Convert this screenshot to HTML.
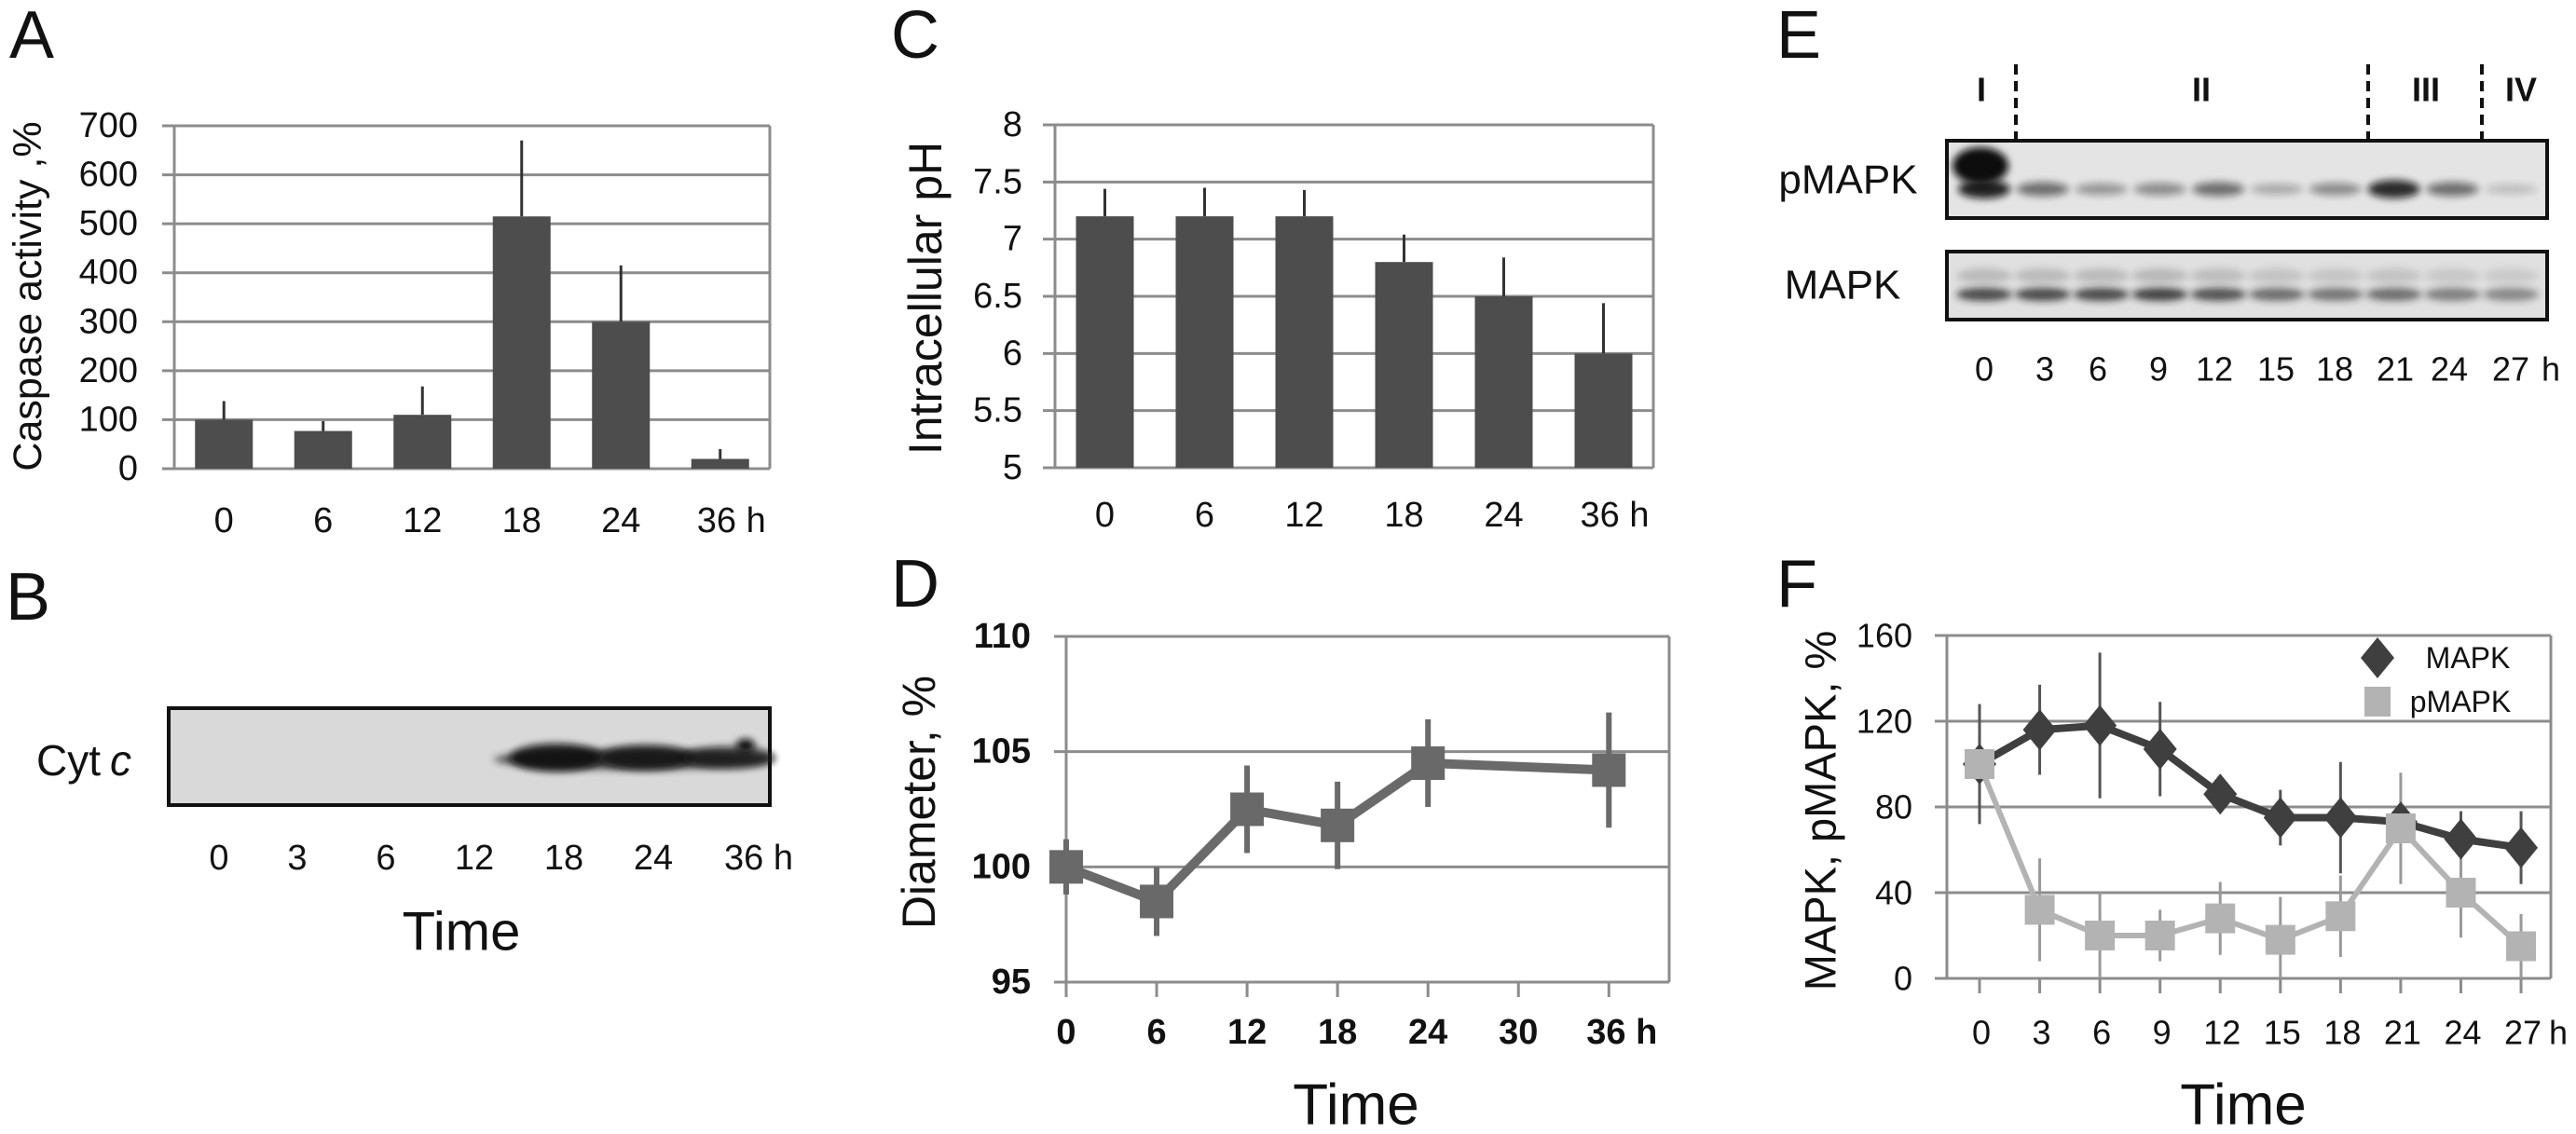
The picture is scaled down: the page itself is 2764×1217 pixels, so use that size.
<!DOCTYPE html>
<html><head><meta charset="utf-8"><title>Figure</title>
<style>
html,body{margin:0;padding:0;background:#fff;}
svg{display:block;}
text{font-family:"Liberation Sans",sans-serif;fill:#111;}
.num{font-family:"Liberation Sans Narrow","Liberation Sans",sans-serif;}
</style></head>
<body>
<svg id="fig" width="2764" height="1217" viewBox="0 0 2764 1217" xmlns="http://www.w3.org/2000/svg">
<defs>
<filter id="blur4" x="-50%" y="-50%" width="200%" height="200%"><feGaussianBlur stdDeviation="4"/></filter>
<filter id="blur8" x="-50%" y="-50%" width="200%" height="200%"><feGaussianBlur stdDeviation="8"/></filter>
</defs>
</svg>
<script>
// ---------- Panel A data ----------
const aCategories = ['0','6','12','18','24','36 h'];
const aValues = [100, 77, 110, 515, 300, 20];
const aErrors = [38, 20, 58, 155, 115, 20];
const aTicks = [0,100,200,300,400,500,600,700];
// ---------- Panel C data ----------
const cCategories = ['0','6','12','18','24','36 h'];
const cValues = [7.2, 7.2, 7.2, 6.8, 6.5, 6.0];
const cErrors = [0.24, 0.25, 0.23, 0.24, 0.34, 0.44];
const cTicks = [5,5.5,6,6.5,7,7.5,8];
// ---------- Panel D data ----------
const dHours = [0, 6, 12, 18, 24, 36];
const dValues = [100, 98.5, 102.5, 101.8, 104.5, 104.2];
const dErrors = [1.2, 1.5, 1.9, 1.9, 1.9, 2.5];
const dYTicks = [95, 100, 105, 110];
const dXTicks = [0, 6, 12, 18, 24, 30, 36];
// ---------- Panel F data ----------
const fHours = [0,3,6,9,12,15,18,21,24,27];
const fMapk = [100,116,118,107,86,75,75,73,65,61];
const fMapkErr = [28,21,34,22,5,13,26,7,13,17];
const fPmapk = [100,32,20,20,28,18,29,70,40,15];
const fPmapkErr = [8,24,20,12,17,20,19,26,21,15];
const fYTicks = [0,40,80,120,160];
// ---------- Panel E (blot) data ----------
const eLanes = ['0','3','6','9','12','15','18','21','24','27'];
const ePIntensity = [1.0,0.6,0.4,0.45,0.6,0.3,0.45,0.95,0.6,0.2];
const eMIntensity = [0.85,0.85,0.85,0.9,0.8,0.65,0.6,0.65,0.55,0.5];
// ---------- Panel B (blot) data ----------
const bLanes = ['0','3','6','12','18','24','36 h'];
const bIntensity = [0,0,0,0,1.0,0.9,0.8];

const NS = 'http://www.w3.org/2000/svg';
const svg = document.getElementById('fig');
function mk(tag, attrs, parent){
  const e = document.createElementNS(NS, tag);
  for (const k in attrs) e.setAttribute(k, attrs[k]);
  (parent || svg).appendChild(e);
  return e;
}
function txt(s, x, y, size, opts){
  opts = opts || {};
  const e = mk('text', {x:x, y:y, 'font-size':size, 'text-anchor':opts.anchor||'middle', 'dominant-baseline':'central'});
  if (opts.cls) e.setAttribute('class', opts.cls);
  if (opts.weight) e.setAttribute('font-weight', opts.weight);
  if (opts.style) e.setAttribute('font-style', opts.style);
  if (opts.rot) e.setAttribute('transform', 'rotate(-90 '+x+' '+y+')');
  e.textContent = s;
  return e;
}
function letter(s, x, y, name){
  const e = txt(s, x, y, 72, {anchor:'start'});
  
  
}
const GRID = '#8c8c8c';

// ---------- Bar chart ----------
function barChart(p){
  const n = p.cats.length, band = (p.x1 - p.x0) / n;
  const ys = v => p.yb - (v - p.min) / (p.max - p.min) * (p.yb - p.yt);
  const xc = i => p.x0 + (i + 0.5) * band;
  p.ticks.forEach(t => {
    const g = mk('line', {x1:p.x0-13, x2:p.x1, y1:ys(t), y2:ys(t), stroke:GRID, 'stroke-width':3});
    
    
    const l = txt(String(t), p.tickRight, ys(t), 38, {anchor:'end', cls:'num'});
    
    
  });
  const ax = mk('line', {x1:p.x0, x2:p.x0, y1:p.yt, y2:p.yb, stroke:GRID, 'stroke-width':3});
  
  
  const rb = mk('line', {x1:p.x1, x2:p.x1, y1:p.yt, y2:p.yb, stroke:GRID, 'stroke-width':3});
  
  
  p.values.forEach((v, i) => {
    const e = mk('line', {x1:xc(i), x2:xc(i), y1:ys(v), y2:ys(v + p.errs[i]), stroke:'#333', 'stroke-width':3});
    
    
    const b = mk('rect', {x:xc(i)-31, y:ys(v), width:62, height:p.yb - ys(v), fill:'#4d4d4d'});
    
    
    const l = txt(p.cats[i], xc(i) + (p.cats[i].indexOf('h')>0 ? 12 : 0), p.labelY, 38, {cls:'num'});
    
    
  });
}

// Panel A
letter('A', 10, 38, 'panel-a-label');
barChart({id:'caspase', x0:187, x1:826, yt:135, yb:503, min:0, max:700, values:aValues, errs:aErrors, cats:aCategories, ticks:aTicks, tickRight:148, labelY:559});
const aY = txt('Caspase activity ,%', 30, 318, 43, {rot:true});



// Panel C
letter('C', 956, 38, 'panel-c-label');
barChart({id:'ph', x0:1132, x1:1774, yt:134, yb:502, min:5, max:8, values:cValues, errs:cErrors, cats:cCategories, ticks:cTicks, tickRight:1097, labelY:553});
const cY = txt('Intracellular pH', 993, 320, 50, {rot:true});



// Panel B (blot)
letter('B', 6, 641, 'panel-b-label');
const bBox = mk('rect', {x:181, y:760, width:645, height:104, fill:'#d9d9d9', stroke:'#111', 'stroke-width':4});


const bSmear = mk('ellipse', {cx:680, cy:815, rx:150, ry:11, fill:'#222', opacity:0.75, filter:'url(#blur4)'});


const bLaneX = [235,319,414,509,605,701,790];
bIntensity.forEach((v, i) => {
  if (v <= 0) return;
  const e = mk('ellipse', {cx:bLaneX[i]-8, cy:813, rx:50, ry:15*v, fill:'#0a0a0a', opacity:0.9*v, filter:'url(#blur4)'});
  
  
});
const bSpot = mk('ellipse', {cx:800, cy:800, rx:10, ry:7, fill:'#111', filter:'url(#blur4)'});


const bCyt = txt('Cyt ', 39, 816, 46, {anchor:'start', cls:'num'});


const bC = txt('c', 118, 816, 46, {anchor:'start', style:'italic'});


const bLabelX = [235,319,414,509,605,701,814];
bLanes.forEach((s, i) => {
  const l = txt(s, bLabelX[i], 921, 38, {cls:'num'});
  
  
});
const bTime = txt('Time', 495, 1000, 58, {cls:'num'});



// Panel D
letter('D', 956, 627, 'panel-d-label');
(function(){
  const x0 = 1144, x1 = 1791, yt = 683, yb = 1054, xmax = 40;
  const xs = h => x0 + h / xmax * (x1 - x0);
  const ys = v => yb - (v - 95) / 15 * (yb - yt);
  dYTicks.forEach(t => {
    const g = mk('line', {x1:x0-13, x2:x1, y1:ys(t), y2:ys(t), stroke:GRID, 'stroke-width':3});
    
    
    const l = txt(String(t), 1106, ys(t), 38, {anchor:'end', cls:'num', weight:'bold'});
    
    
  });
  const ax = mk('line', {x1:x0, x2:x0, y1:yt, y2:yb, stroke:GRID, 'stroke-width':3});
  
  
  const rb = mk('line', {x1:x1, x2:x1, y1:yt, y2:yb, stroke:GRID, 'stroke-width':3});
  
  
  dXTicks.forEach(h => {
    const t = mk('line', {x1:xs(h), x2:xs(h), y1:yb, y2:yb+16, stroke:GRID, 'stroke-width':3});
    
    
    const l = txt(h === 36 ? '36 h' : String(h), xs(h) + (h === 36 ? 14 : 0), 1108, 38, {cls:'num', weight:'bold'});
    
    
  });
  dValues.forEach((v, i) => {
    const e = mk('line', {x1:xs(dHours[i]), x2:xs(dHours[i]), y1:ys(v - dErrors[i]), y2:ys(v + dErrors[i]), stroke:'#6a6a6a', 'stroke-width':6});
    
    
  });
  const pl = mk('polyline', {points:dValues.map((v, i) => xs(dHours[i]) + ',' + ys(v)).join(' '), fill:'none', stroke:'#6a6a6a', 'stroke-width':10, 'stroke-linejoin':'round'});
  
  
  dValues.forEach((v, i) => {
    const m = mk('rect', {x:xs(dHours[i])-18, y:ys(v)-18, width:36, height:36, fill:'#696969'});
    
    
  });
  const yl = txt('Diameter, %', 986, 861, 50, {rot:true});
  
  
  const xl = txt('Time', 1455, 1186, 62, {cls:'num'});
  
  
})();

// Panel E (blots)
letter('E', 1906, 38, 'panel-e-label');
(function(){
  const laneX = i => 2129 + i * 62.8;
  const pBox = mk('rect', {x:2089, y:151, width:644, height:83, fill:'#e4e4e4', stroke:'#111', 'stroke-width':4});
  
  
  const mBox = mk('rect', {x:2089, y:270, width:644, height:73, fill:'#e0e0e0', stroke:'#111', 'stroke-width':4});
  
  
  ePIntensity.forEach((v, i) => {
    const b = mk('ellipse', {cx:laneX(i), cy:203, rx:28, ry:4 + 6 * v, fill:'#111', opacity:0.9 * v, filter:'url(#blur4)'});
    
    
  });
  const blob = mk('ellipse', {cx:2125, cy:178, rx:30, ry:20, fill:'#0c0c0c', filter:'url(#blur4)'});
  
  
  eMIntensity.forEach((v, i) => {
    const b = mk('ellipse', {cx:laneX(i), cy:316, rx:30, ry:7, fill:'#1a1a1a', opacity:0.9 * v, filter:'url(#blur4)'});
    
    
    const b2 = mk('ellipse', {cx:laneX(i), cy:296, rx:30, ry:8, fill:'#888', opacity:0.5 * v, filter:'url(#blur4)'});
    
    
  });
  [2163, 2541, 2663].forEach(x => {
    const d = mk('line', {x1:x, x2:x, y1:69, y2:150, stroke:'#111', 'stroke-width':4, 'stroke-dasharray':'11 7'});
    
    
  });
  [['I',2126],['II',2362],['III',2603],['IV',2705]].forEach(p => {
    const l = txt(p[0], p[1], 96, 36, {cls:'num', weight:'bold'});
    
    
  });
  const pl = txt('pMAPK', 1983, 193, 44, {cls:'num'});
  
  
  const ml = txt('MAPK', 1977, 306, 44, {cls:'num'});
  
  
  const lx = [2129,2194,2251,2316,2376,2442,2505,2570,2628,2694];
  eLanes.forEach((s, i) => {
    const l = txt(s, lx[i], 396, 36, {cls:'num'});
    
    
  });
  const h = txt('h', 2737, 396, 36, {cls:'num'});
  
  
})();

// Panel F
letter('F', 1906, 627, 'panel-f-label');
(function(){
  const x0 = 2089, x1 = 2737, yt = 682, yb = 1050;
  const xs = h => 2124 + h * 21.52;
  const ys = v => yb - v / 160 * (yb - yt);
  fYTicks.forEach(t => {
    const g = mk('line', {x1:x0-13, x2:x1, y1:ys(t), y2:ys(t), stroke:GRID, 'stroke-width':3});
    
    
    const l = txt(String(t), 2052, ys(t), 36, {anchor:'end', cls:'num'});
    
    
  });
  const ax = mk('line', {x1:x0, x2:x0, y1:yt, y2:yb, stroke:GRID, 'stroke-width':3});
  
  
  const rb = mk('line', {x1:x1, x2:x1, y1:yt, y2:yb, stroke:GRID, 'stroke-width':3});
  
  
  fHours.forEach(h => {
    const t = mk('line', {x1:xs(h), x2:xs(h), y1:yb, y2:yb+16, stroke:GRID, 'stroke-width':3});
    
    
    const l = txt(String(h), xs(h) + 2, 1108, 36, {cls:'num'});
    
    
  });
  const hu = txt('h', 2745, 1108, 36, {cls:'num'});
  
  
  fMapk.forEach((v, i) => {
    const e = mk('line', {x1:xs(fHours[i]), x2:xs(fHours[i]), y1:ys(v - fMapkErr[i]), y2:ys(v + fMapkErr[i]), stroke:'#555', 'stroke-width':3});
    
    
  });
  fPmapk.forEach((v, i) => {
    const e = mk('line', {x1:xs(fHours[i]), x2:xs(fHours[i]), y1:ys(Math.max(0, v - fPmapkErr[i])), y2:ys(v + fPmapkErr[i]), stroke:'#999', 'stroke-width':3});
    
    
  });
  const ml = mk('polyline', {points:fMapk.map((v, i) => xs(fHours[i]) + ',' + ys(v)).join(' '), fill:'none', stroke:'#3f3f3f', 'stroke-width':8, 'stroke-linejoin':'round'});
  
  
  fMapk.forEach((v, i) => {
    const x = xs(fHours[i]), y = ys(v);
    const d = mk('polygon', {points:(x)+','+(y-22)+' '+(x+18)+','+y+' '+x+','+(y+22)+' '+(x-18)+','+y, fill:'#3f3f3f'});
    
    
  });
  const pl = mk('polyline', {points:fPmapk.map((v, i) => xs(fHours[i]) + ',' + ys(v)).join(' '), fill:'none', stroke:'#b3b3b3', 'stroke-width':6, 'stroke-linejoin':'round'});
  
  
  fPmapk.forEach((v, i) => {
    const s = mk('rect', {x:xs(fHours[i])-16, y:ys(v)-16, width:32, height:32, fill:'#b3b3b3'});
    
    
  });
  const ld = mk('polygon', {points:'2551,684 2569,706 2551,728 2533,706', fill:'#3f3f3f'});
  
  
  const lt = txt('MAPK', 2648, 706, 32, {cls:'num'});
  
  
  const ls = mk('rect', {x:2537, y:737, width:28, height:32, fill:'#b3b3b3'});
  
  
  const lt2 = txt('pMAPK', 2640, 753, 32, {cls:'num'});
  
  
  const yl = txt('MAPK, pMAPK, %', 1953, 870, 47, {rot:true});
  
  
  const xl = txt('Time', 2407, 1186, 62, {cls:'num'});
  
  
})();
</script>
</body></html>
